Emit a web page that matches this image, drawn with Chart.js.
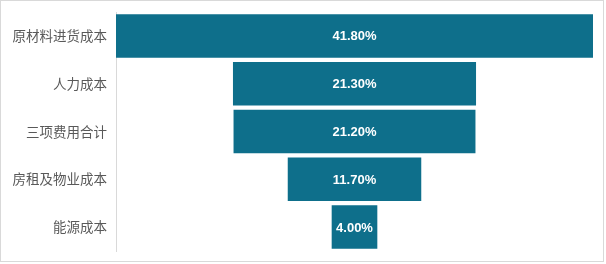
<!DOCTYPE html>
<html>
<head>
<meta charset="utf-8">
<script src="https://cdn.jsdelivr.net/npm/chart.js@4/dist/chart.umd.min.js"></script>
<style>
  body { margin: 0; background: #fff; }
  #box { position: absolute; left: 0; top: 0; width: 604px; height: 262px; border: 1px solid #d9d9d9; box-sizing: border-box; }
  #chart { position: absolute; left: 1px; top: 1px; }
</style>
</head>
<body>
<div id="box"><canvas id="chart" width="602" height="260"></canvas></div>
<script>
const categories = ['原材料进货成本', '人力成本', '三项费用合计', '房租及物业成本', '能源成本'];
const values = [41.8, 21.3, 21.2, 11.7, 4.0];

const half = Math.max(...values) / 2;
// centred floating bars make the funnel
const funnelData = values.map(v => [-v / 2, v / 2]);

const valueLabels = {
  id: 'valueLabels',
  afterDatasetsDraw(chart) {
    const ctx = chart.ctx;
    const meta = chart.getDatasetMeta(0);
    ctx.save();
    ctx.fillStyle = '#ffffff';
    ctx.font = 'bold 13px "Liberation Sans", Arial, sans-serif';
    ctx.textAlign = 'center';
    ctx.textBaseline = 'middle';
    meta.data.forEach((bar, i) => {
      const cx = (bar.x + bar.base) / 2;
      ctx.fillText(values[i].toFixed(2) + '%', cx, bar.y + 1);
    });
    ctx.restore();
  }
};

const ctx = document.getElementById('chart');
new Chart(ctx, {
  type: 'bar',
  data: {
    labels: categories,
    datasets: [{
      data: funnelData,
      backgroundColor: '#0e6f8b',
      borderWidth: 0,
      categoryPercentage: 1,
      barPercentage: 0.91
    }]
  },
  options: {
    indexAxis: 'y',
    responsive: false,
    animation: false,
    layout: { padding: { top: 10, bottom: 11, right: 11, left: 0 } },
    plugins: {
      legend: { display: false },
      tooltip: { enabled: false }
    },
    scales: {
      x: {
        display: false,
        min: -half,
        max: half
      },
      y: {
        afterFit(scale) {
          scale.width = 114;
          scale.paddingTop = 0;
          scale.paddingBottom = 0;
        },
        grid: { display: false, drawTicks: false },
        border: { display: true, color: '#d9d9d9', width: 1 },
        ticks: {
          color: '#595959',
          padding: 9,
          font: { family: '"Noto Sans CJK SC", sans-serif', size: 13.5 }
        }
      }
    }
  },
  plugins: [valueLabels]
});
</script>
</body>
</html>
